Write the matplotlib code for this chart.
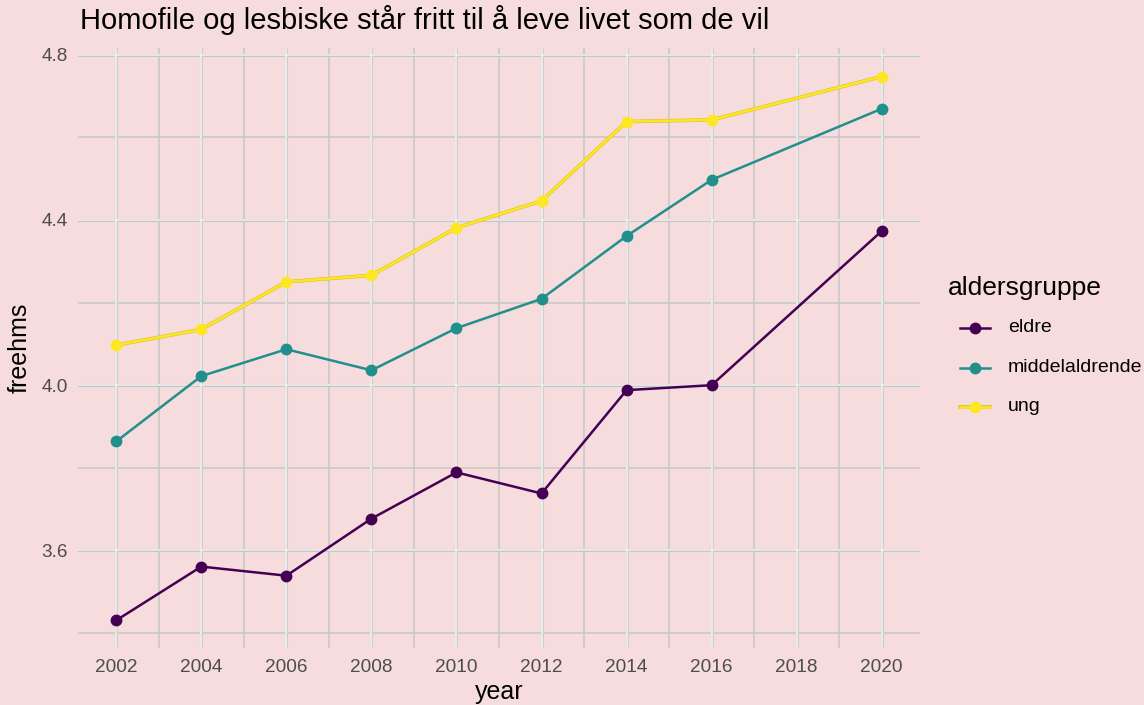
import matplotlib
matplotlib.use("Agg")
import matplotlib.pyplot as plt
from matplotlib.lines import Line2D
import numpy as np

plt.rcParams['font.family'] = ['Liberation Sans', 'DejaVu Sans']

years = [2002, 2004, 2006, 2008, 2010, 2012, 2014, 2016, 2020]
eldre = [3.431, 3.561, 3.539, 3.677, 3.789, 3.738, 3.988, 4.000, 4.373]
middelaldrende = [3.864, 4.022, 4.087, 4.036, 4.138, 4.209, 4.361, 4.497, 4.669]
ung = [4.097, 4.135, 4.250, 4.266, 4.381, 4.446, 4.638, 4.642, 4.747]
groups = ["eldre", "middelaldrende", "ung"]
colors = ["#440154", "#21908C", "#FDE725"]
x_ticks = [2002, 2004, 2006, 2008, 2010, 2012, 2014, 2016, 2018, 2020]
y_ticks = [3.6, 4.0, 4.4, 4.8]

bg = "#F7DCDD"
W, H = 1144, 705
fig = plt.figure(figsize=(W / 100, H / 100), dpi=100, facecolor=bg)
L, R, T, B = 78, 920, 48, 648
ax = fig.add_axes([L / W, 1 - B / H, (R - L) / W, (B - T) / H])
ax.set_facecolor(bg)

ax.set_xlim(2001.1, 2020.9)
ax.set_ylim(3.364, 4.816)

# grid
for yv in y_ticks:
    ax.axhline(yv, color="#C6C6C6", lw=2.2, zorder=0.5)
    ax.axhline(yv, color="#F0F0F0", lw=1.1, zorder=0.6)
for yv in [3.4, 3.8, 4.2, 4.6]:
    ax.axhline(yv, color="#C6C6C6", lw=1.1, zorder=0.5)
for xv in x_ticks:
    ax.axvline(xv, color="#CECECE", lw=2.2, zorder=0.5)
    ax.axvline(xv, color="#F2F2F2", lw=1.1, zorder=0.6)
for xv in range(2003, 2020, 2):
    ax.axvline(xv, color="#C6C6C6", lw=1.1, zorder=0.5)

for vals, c, g in zip([eldre, middelaldrende, ung], colors, groups):
    if g == "ung":
        ax.plot(years, vals, color="#D8C420", lw=2.6, zorder=2)
    ax.plot(years, vals, color=c, lw=1.8, marker="o", ms=7.5, zorder=3, label=g)

ax.set_xticks(x_ticks)
ax.set_yticks(y_ticks)
ax.set_yticklabels([f"{v:.1f}" for v in y_ticks])
ax.tick_params(length=0, labelsize=13.7, labelcolor="#4D4D4D")
ax.tick_params(axis="y", pad=7)
ax.tick_params(axis="x", pad=8)
for s in ax.spines.values():
    s.set_visible(False)
ax.set_xlabel("year", fontsize=18, labelpad=3)
ax.set_ylabel("freehms", fontsize=18, labelpad=7)

fig.text(80 / W, 1 - 20 / H, "Homofile og lesbiske står fritt til å leve livet som de vil",
         fontsize=21, va="center", ha="left")

# legend (manual layout)
fig.text(948 / W, 1 - 288 / H, "aldersgruppe", fontsize=19, va="center", ha="left")
for i, (c, g) in enumerate(zip(colors, groups)):
    yy = 1 - (328 + 39.5 * i) / H
    if g == "ung":
        fig.add_artist(Line2D([960 / W, 990 / W], [yy, yy], color="#D8C420", lw=2.6))
    fig.add_artist(Line2D([960 / W, 990 / W], [yy, yy], color=c, lw=1.8))
    fig.add_artist(Line2D([975 / W], [yy], color=c, marker="o", ms=7.5, lw=0))
    fig.text(1008 / W, yy, g, fontsize=14, va="center", ha="left")

fig.savefig("out.png", dpi=100, facecolor=bg)
